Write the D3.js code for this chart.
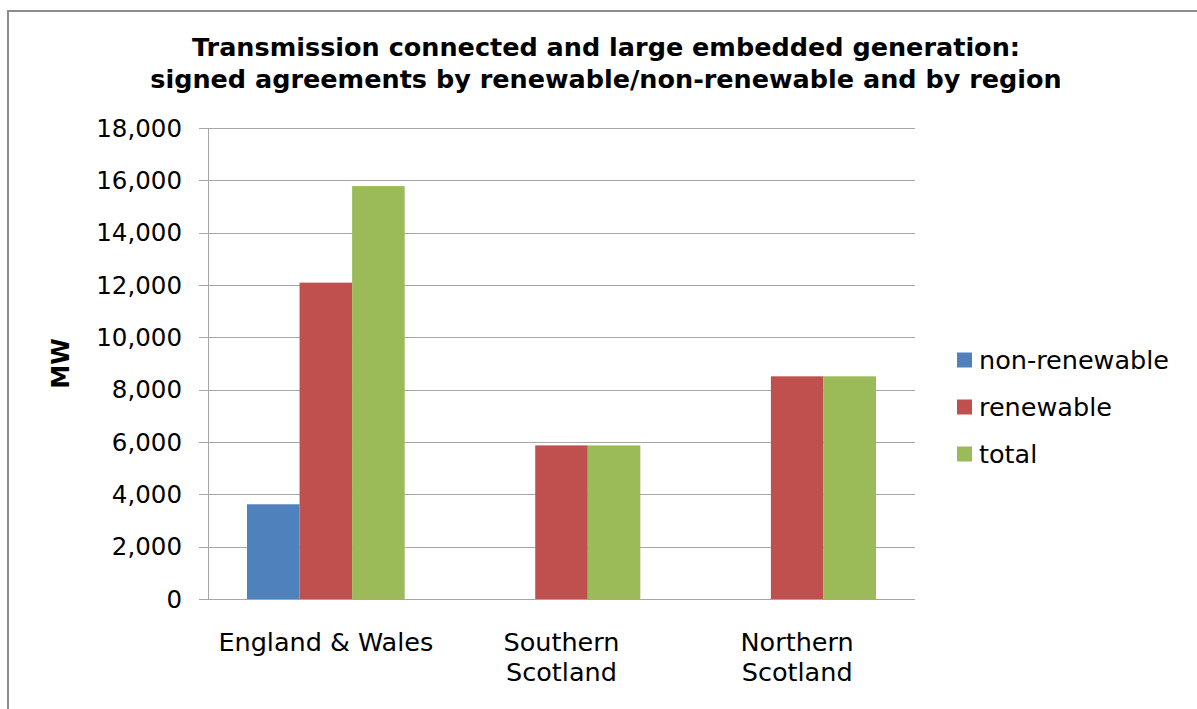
<!DOCTYPE html>
<html>
<head>
<meta charset="utf-8">
<script src="https://cdn.jsdelivr.net/npm/d3@7"></script>
<style>
  body { margin: 0; background: #fff; }
  text { font-family: "DejaVu Sans", Verdana, sans-serif; fill: #000; }
</style>
</head>
<body>
<div id="container"></div>
<script>
// les données du graphique
const regions = ["England & Wales", "Southern\nScotland", "Northern\nScotland"];
const series = ["non-renewable", "renewable", "total"];
const non_renewable = [3620, 0, 0];
const renewable = [12090, 5870, 8510];
const total = [15780, 5870, 8510];
const yTicks = [0, 2000, 4000, 6000, 8000, 10000, 12000, 14000, 16000, 18000];
const colors = ["#4F81BD", "#C0504D", "#9BBB59"];

const width = 1197;
const height = 709;
const plot = {left: 208, right: 915, top: 128, bottom: 599};

const values = [non_renewable, renewable, total];
const rows = regions.map((r, i) => ({
    region: r,
    bars: series.map((s, j) => ({key: s, value: values[j][i]}))
}));

const svg = d3.create("svg")
    .attr("width", width)
    .attr("height", height);

// le cadre (seuls les bords haut et gauche sont visibles)
svg.append("rect")
    .attr("x", 8).attr("y", 11)
    .attr("width", 1200).attr("height", 720)
    .attr("fill", "none")
    .attr("stroke", "#8c8c8c")
    .attr("stroke-width", 2);

const x0 = d3.scaleBand()
    .domain(regions)
    .range([plot.left, plot.right])
    .paddingInner(0.331)
    .paddingOuter(0.1655);

const x1 = d3.scaleBand()
    .domain(series)
    .range([0, x0.bandwidth()]);

const y = d3.scaleLinear()
    .domain([0, 18000])
    .range([plot.bottom, plot.top]);

// grille horizontale
svg.append("g")
    .attr("stroke", "#a6a6a6")
    .selectAll("line")
    .data(yTicks)
    .join("line")
    .attr("x1", plot.left - 9)
    .attr("x2", plot.right)
    .attr("y1", d => Math.round(y(d)) + 0.5)
    .attr("y2", d => Math.round(y(d)) + 0.5);

// axe vertical
svg.append("line")
    .attr("x1", plot.left + 0.5).attr("x2", plot.left + 0.5)
    .attr("y1", plot.top).attr("y2", plot.bottom)
    .attr("stroke", "#a6a6a6");

// étiquettes de l'axe y
const fmt = d3.format(",");
svg.append("g")
    .selectAll("text")
    .data(yTicks)
    .join("text")
    .attr("x", 182)
    .attr("y", d => y(d))
    .attr("dy", "0.36em")
    .attr("text-anchor", "end")
    .attr("font-size", 24.5)
    .text(d => fmt(d));

// les barres
const group = svg.append("g")
    .selectAll("g")
    .data(rows)
    .join("g")
    .attr("transform", d => `translate(${x0(d.region)},0)`);

group.selectAll("rect")
    .data(d => d.bars.filter(b => b.value > 0))
    .join("rect")
    .attr("x", d => x1(d.key))
    .attr("y", d => y(d.value))
    .attr("width", x1.bandwidth())
    .attr("height", d => y(0) - y(d.value))
    .attr("fill", (d, i) => colors[series.indexOf(d.key)]);

// ligne de base
svg.append("line")
    .attr("x1", plot.left - 9).attr("x2", plot.right)
    .attr("y1", plot.bottom + 0.5).attr("y2", plot.bottom + 0.5)
    .attr("stroke", "#a6a6a6");

// étiquettes des catégories
svg.append("g")
    .selectAll("text")
    .data(regions)
    .join("text")
    .attr("x", d => x0(d) + x0.bandwidth() / 2)
    .attr("y", 651)
    .attr("text-anchor", "middle")
    .attr("font-size", 25.5)
    .selectAll("tspan")
    .data(d => d.split("\n"))
    .join("tspan")
    .attr("x", function() { return d3.select(this.parentNode).attr("x"); })
    .attr("dy", (d, i) => i === 0 ? 0 : 30)
    .text(d => d);

// titre de l'axe y
svg.append("text")
    .attr("transform", `translate(69,${(plot.top + plot.bottom) / 2}) rotate(-90)`)
    .attr("text-anchor", "middle")
    .attr("font-size", 24)
    .attr("font-weight", "bold")
    .text("MW");

// titre
svg.append("text")
    .attr("x", 606)
    .attr("y", 56)
    .attr("text-anchor", "middle")
    .attr("font-size", 25.5)
    .attr("font-weight", "bold")
    .selectAll("tspan")
    .data(["Transmission connected and large embedded generation:",
           "signed agreements by renewable/non-renewable and by region"])
    .join("tspan")
    .attr("x", 606)
    .attr("dy", (d, i) => i === 0 ? 0 : 32)
    .text(d => d);

// légende
const legend = svg.append("g")
    .selectAll("g")
    .data(series)
    .join("g")
    .attr("transform", (d, i) => `translate(957,${360 + i * 47})`);

legend.append("rect")
    .attr("x", 0).attr("y", -7.5)
    .attr("width", 15).attr("height", 15)
    .attr("fill", (d, i) => colors[i]);

legend.append("text")
    .attr("x", 22)
    .attr("dy", "0.36em")
    .attr("font-size", 25.5)
    .text(d => d);

d3.select("#container").node().append(svg.node());
</script>
</body>
</html>
